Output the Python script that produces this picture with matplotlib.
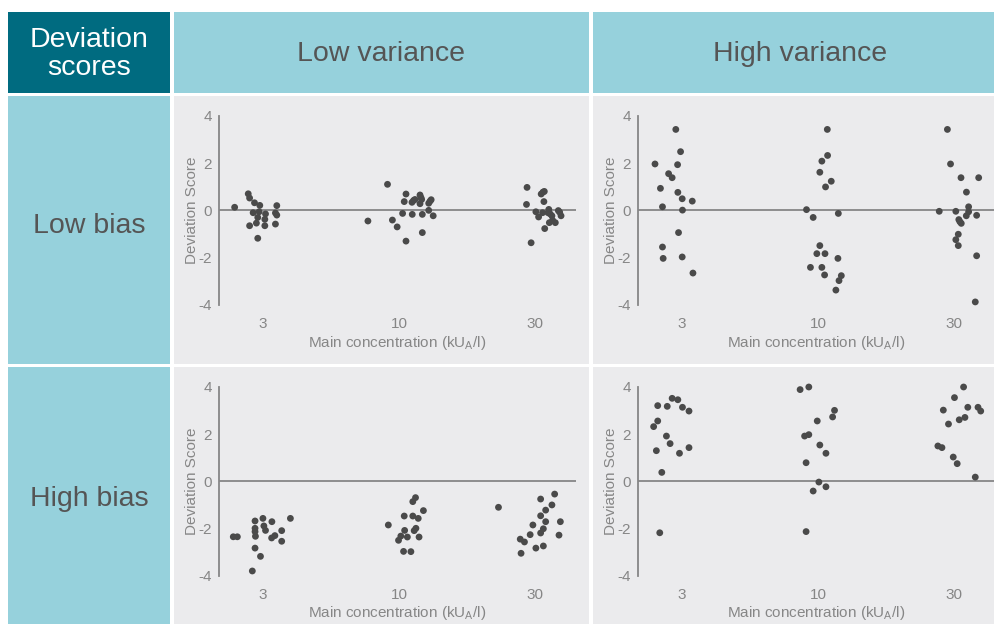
import matplotlib
matplotlib.use('Agg')
import matplotlib.pyplot as plt
from matplotlib.patches import Rectangle

plt.rcParams['font.family'] = ['Liberation Sans', 'DejaVu Sans']
plt.rcParams['mathtext.default'] = 'regular'
plt.rcParams['axes.unicode_minus'] = False

# concentrations on the x axis, and the y ticks
concentrations = ['3', '10', '30']
score_ticks = [-4, -2, 0, 2, 4]

col_titles = ['Low variance', 'High variance']
row_titles = ['Low bias', 'High bias']
corner_title = 'Deviation\nscores'

# each panel: concentration -> (horizontal jitter, deviation score)
low_bias_low_var = {
    '3': ([-0.21, -0.11, -0.10, -0.064, -0.025, 0.10, -0.074, -0.03, 0.017, 0.09,
           0.10, -0.04, 0.012, -0.05, -0.10, 0.012, 0.09, -0.04],
          [0.13, 0.70, 0.52, 0.32, 0.21, 0.20, -0.10, -0.06, -0.15, -0.11,
           -0.20, -0.30, -0.38, -0.54, -0.65, -0.65, -0.58, -1.18]),
    '10': ([-0.086, -0.23, -0.05, -0.015, 0.05, 0.05, 0.037, 0.025, 0.094, 0.106,
            0.116, 0.153, 0.16, 0.165, 0.153, 0.096, 0.17, 0.17, 0.217, 0.217,
            0.227, 0.235, 0.25],
           [1.10, -0.45, -0.41, -0.70, -1.30, 0.69, 0.37, -0.13, 0.34, 0.42,
            0.46, 0.65, 0.54, 0.46, 0.28, -0.17, -0.17, -0.94, 0.0, 0.30,
            0.39, 0.45, -0.23]),
    '30': ([-0.06, -0.064, -0.03, 0.005, 0.025, 0.044, 0.057, 0.067, 0.064, 0.054,
            0.07, 0.10, 0.094, 0.11, 0.123, 0.104, 0.128, 0.148, 0.17, 0.18, 0.19],
           [0.97, 0.25, -1.37, -0.06, -0.28, 0.69, 0.77, 0.80, 0.37, -0.10,
            -0.77, 0.04, -0.10, -0.15, -0.23, -0.52, -0.42, -0.52, -0.01, -0.08, -0.23]),
}

low_bias_high_var = {
    '3': ([-0.20, -0.16, -0.145, -0.047, -0.012, -0.034, -0.10, -0.074, -0.032, 0.0,
           0.002, 0.074, -0.027, -0.145, -0.14, 0.0, 0.079],
          [1.96, 0.93, 0.15, 3.42, 2.48, 1.93, 1.55, 1.38, 0.76, 0.49,
           0.01, 0.39, -0.94, -1.55, -2.03, -1.97, -2.65]),
    '10': ([-0.086, -0.037, 0.067, 0.069, 0.027, 0.012, 0.096, 0.054, 0.148, 0.012,
            -0.01, 0.05, -0.057, 0.027, 0.047, 0.145, 0.17, 0.153, 0.13],
           [0.03, -0.30, 3.42, 2.32, 2.08, 1.61, 1.23, 0.99, -0.13, -1.49,
            -1.83, -1.83, -2.41, -2.41, -2.73, -2.03, -2.76, -2.97, -3.37]),
    '30': ([-0.05, -0.027, 0.05, 0.18, 0.09, -0.11, 0.012, 0.106, 0.106, 0.089,
            0.034, 0.042, 0.052, 0.165, 0.03, 0.012, 0.03, 0.165, 0.155],
           [3.42, 1.96, 1.38, 1.38, 0.77, -0.04, -0.04, 0.15, -0.06, -0.23,
            -0.39, -0.48, -0.55, -0.21, -1.01, -1.24, -1.49, -1.92, -3.87]),
}

high_bias_low_var = {
    '3': ([-0.22, -0.19, -0.06, -0.002, -0.06, -0.06, -0.057, 0.005, 0.064, 0.017,
           0.062, 0.086, 0.136, 0.136, 0.20, -0.06, -0.02, -0.08],
          [-2.35, -2.35, -1.68, -1.57, -1.99, -2.13, -2.33, -1.89, -1.71, -2.08,
           -2.40, -2.30, -2.09, -2.54, -1.57, -2.83, -3.18, -3.80]),
    '10': ([-0.08, -0.005, 0.012, 0.04, 0.06, 0.037, 0.032, 0.086, 0.10, 0.12,
            0.10, 0.11, 0.123, 0.14, 0.146, 0.178],
           [-1.85, -2.50, -2.32, -2.08, -2.36, -1.47, -2.97, -2.98, -0.86, -0.69,
            -1.47, -2.09, -1.99, -1.57, -2.36, -1.24]),
    '30': ([-0.27, -0.11, -0.079, -0.104, -0.037, -0.017, 0.005, 0.04, 0.04, 0.04,
            0.06, 0.06, 0.077, 0.077, 0.123, 0.143, 0.185, 0.175],
           [-1.10, -2.45, -2.57, -3.05, -2.26, -1.85, -2.83, -0.75, -1.46, -2.19,
            -2.01, -2.74, -1.71, -1.22, -1.00, -0.54, -1.71, -2.28]),
}

high_bias_high_var = {
    '3': ([-0.21, -0.18, -0.18, -0.19, -0.15, -0.165, -0.11, -0.074, -0.032, 0.002,
           0.05, -0.116, -0.089, -0.02, 0.05],
          [2.32, 2.56, 3.21, 1.30, 0.38, -2.18, 3.18, 3.52, 3.46, 3.14,
           2.98, 1.92, 1.60, 1.19, 1.43]),
    '10': ([-0.133, -0.069, -0.007, 0.106, 0.12, -0.10, -0.069, 0.012, 0.057, -0.089,
            0.005, -0.037, 0.057, -0.089],
           [3.89, 4.00, 2.56, 2.73, 3.01, 1.92, 1.98, 1.54, 1.19, 0.79,
            -0.03, -0.41, -0.23, -2.13]),
    '30': ([-0.12, -0.09, -0.08, -0.042, 0.002, -0.007, 0.022, 0.037, 0.069, 0.079,
            0.10, 0.175, 0.195, 0.155],
           [1.50, 1.43, 3.02, 2.43, 3.55, 1.03, 0.75, 2.61, 4.00, 2.71,
            3.14, 3.14, 2.98, 0.18]),
}

panels = [[low_bias_low_var, low_bias_high_var],
          [high_bias_low_var, high_bias_high_var]]

W, H = 994, 624
DARK = '#006B80'
LIGHT = '#96D1DC'
PANEL = '#EBEBED'
TITLE_GREY = '#555555'
AXIS_GREY = '#868686'
DOT = '#4A4A4A'

fig = plt.figure(figsize=(W / 100, H / 100), dpi=100)
fig.patch.set_facecolor('white')

cols = [(8, 170), (174, 589), (593, 1010)]
rows = [(12, 93), (96, 364), (367, 630)]


def fx(px):
    return px / W


def fy(py):
    return 1 - py / H


def cell(c, r, color):
    x0, x1 = cols[c]
    y0, y1 = rows[r]
    fig.patches.append(Rectangle((fx(x0), fy(y1)), (x1 - x0) / W, (y1 - y0) / H,
                                 transform=fig.transFigure, facecolor=color,
                                 edgecolor='none', zorder=-5))


# header cells
cell(0, 0, DARK)
fig.text(fx(89), fy(54), corner_title, color='white', fontsize=20.5,
         ha='center', va='center', linespacing=1.12)
col_centers = [381, 800]
for i, t in enumerate(col_titles):
    cell(i + 1, 0, LIGHT)
    fig.text(fx(col_centers[i]), fy(54), t, color=TITLE_GREY, fontsize=20.5,
             ha='center', va='center')
row_centers = [226, 499]
for j, t in enumerate(row_titles):
    cell(0, j + 1, LIGHT)
    fig.text(fx(89), fy(row_centers[j]), t, color=TITLE_GREY, fontsize=20.5,
             ha='center', va='center')

# axes geometry in pixels: left spine x, y of +4 and -4
ax_left = [219, 638]
ax_y = [(115.7, 305.0), (387.0, 575.7)]
unit = 136.0
xmin, xmax = -0.325, 2.3

for j in range(2):
    for i in range(2):
        cell(i + 1, j + 1, PANEL)
        left = ax_left[i]
        top, bottom = ax_y[j]
        width = (xmax - xmin) * unit
        ax = fig.add_axes([fx(left), fy(bottom), width / W, (bottom - top) / H])
        ax.patch.set_alpha(0)
        data = panels[j][i]
        for k, conc in enumerate(concentrations):
            dx, score = data[conc]
            ax.scatter([k + d for d in dx], score, s=24, color=DOT,
                       edgecolor='none', zorder=3, clip_on=False)
        ax.axhline(0, color=AXIS_GREY, lw=1.3, zorder=2)
        ax.set_xlim(xmin, xmax)
        ax.set_ylim(-4, 4)
        ax.set_xticks(range(len(concentrations)))
        ax.set_xticklabels(concentrations)
        ax.set_yticks(score_ticks)
        ax.set_yticklabels([str(v) for v in score_ticks])
        ax.tick_params(length=0, labelsize=11, colors=AXIS_GREY, pad=5)
        ax.tick_params(axis='x', pad=9)
        for s in ['top', 'right', 'bottom']:
            ax.spines[s].set_visible(False)
        ax.spines['left'].set_color(AXIS_GREY)
        ax.spines['left'].set_linewidth(1.3)
        ax.set_ylabel('Deviation Score', fontsize=11, color=AXIS_GREY, labelpad=0)
        ax.set_xlabel('Main concentration (kU$_A$/l)', fontsize=11,
                      color=AXIS_GREY, labelpad=1.5)

fig.savefig('out.png', dpi=100, facecolor='white')
